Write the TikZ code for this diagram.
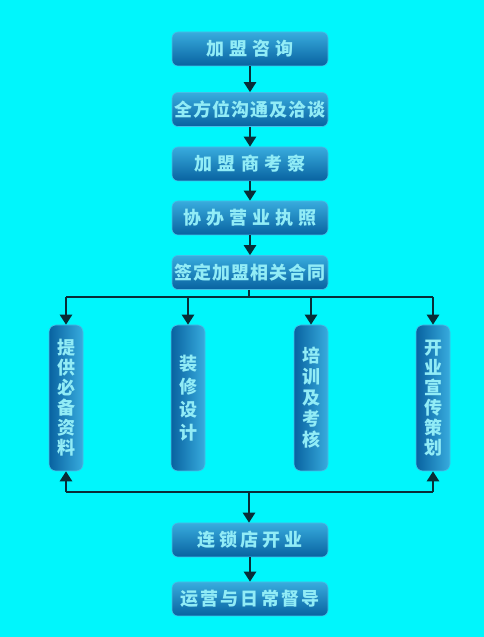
\documentclass[tikz,border=0pt]{standalone}
\usepackage{fontspec}
\newfontfamily\cjk{Noto Sans CJK SC}[Scale=1]
\usetikzlibrary{arrows.meta,positioning}
\definecolor{bgc}{RGB}{0,246,252}
\definecolor{boxtop}{RGB}{56,172,222}
\definecolor{boxbot}{RGB}{8,98,160}
\definecolor{boxedge}{RGB}{70,190,230}
\definecolor{txtc}{RGB}{145,236,246}
\definecolor{linec}{RGB}{8,45,55}
\newcommand{\gp}[1]{\hspace{#1pt}}
\tikzset{
  hbox/.style={rectangle, rounded corners=6pt, minimum width=156pt, minimum height=34pt,
    top color=boxtop, bottom color=boxbot, draw=boxedge, line width=0.6pt,
    text=txtc, font=\cjk\bfseries\fontsize{18}{18}\selectfont, inner sep=0pt},
  vbox/.style={rectangle, rounded corners=7pt, minimum width=34pt, minimum height=146pt,
    left color=boxbot, right color=boxtop, draw=boxedge, line width=0.6pt,
    text=txtc, font=\cjk\bfseries\fontsize{18}{20}\selectfont, inner sep=0pt, align=center},
  conn/.style={draw=linec, line width=2.4pt},
  arr/.style={conn, -{Triangle[width=12pt,length=10pt]}},
}
\begin{document}
\begin{tikzpicture}[x=1pt,y=1pt]
\fill[bgc] (0,0) rectangle (484,637);
\useasboundingbox (0,0) rectangle (484,637);
\node[hbox] (b1) at (250,588) {加\gp{5.3}盟\gp{5.3}咨\gp{5.3}询};
\node[hbox] (b2) at (250,527.5) {全\gp{1}方\gp{1}位\gp{1}沟\gp{1}通\gp{1}及\gp{1}洽\gp{1}谈};
\node[hbox] (b3) at (250,473) {加\gp{5.5}盟\gp{5.5}商\gp{5.5}考\gp{5.5}察};
\node[hbox] (b4) at (250,419) {协\gp{5}办\gp{5}营\gp{5}业\gp{5}执\gp{5}照};
\node[hbox] (b5) at (250,364.5) {签\gp{1}定\gp{1}加\gp{1}盟\gp{1}相\gp{1}关\gp{1}合\gp{1}同};
\node[vbox] (v1) at (66,239) {提\\供\\必\\备\\资\\料};
\node[vbox] (v2) at (188,239) {装\\[3pt]修\\[3pt]设\\[3pt]计};
\node[vbox] (v3) at (311,239) {培\\[1pt]训\\[1pt]及\\[1pt]考\\[1pt]核};
\node[vbox] (v4) at (433,239) {开\\业\\宣\\传\\策\\划};
\node[hbox] (c1) at (250,97) {连\gp{3.8}锁\gp{3.8}店\gp{3.8}开\gp{3.8}业};
\node[hbox] (c2) at (250,38) {运\gp{2.3}营\gp{2.3}与\gp{2.3}日\gp{2.3}常\gp{2.3}督\gp{2.3}导};
\draw[arr] (b1) -- (b2);
\draw[arr] (b2) -- (b3);
\draw[arr] (b3) -- (b4);
\draw[arr] (b4) -- (b5);
\coordinate (bt) at (249,340);
\draw[conn] (b5.south -| bt) -- (bt);
\draw[conn] (v1.north |- bt) -- (v4.north |- bt);
\foreach \v in {v1,v2,v3,v4} \draw[arr] (\v.north |- bt) -- (\v.north);
\coordinate (bb) at (249,145);
\draw[conn] (v1.south |- bb) -- (v4.south |- bb);
\draw[arr] (v1.south |- bb) -- (v1.south);
\draw[arr] (v4.south |- bb) -- (v4.south);
\draw[arr] (bb) -- (c1.north -| bb);
\draw[arr] (c1) -- (c2);
\end{tikzpicture}
\end{document}
